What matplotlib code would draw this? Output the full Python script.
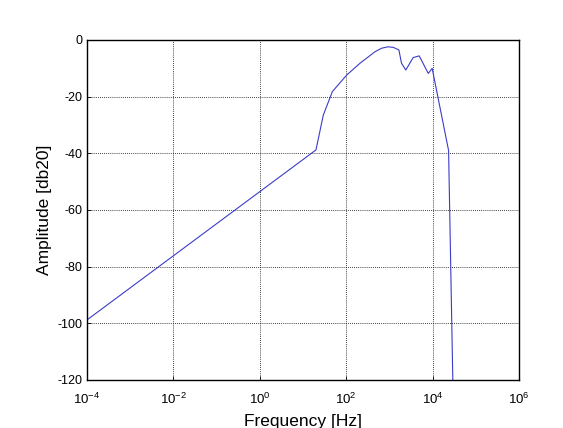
import matplotlib
matplotlib.use("Agg")
import matplotlib.pyplot as plt
import numpy as np

# values (log10 of frequency, amplitude in dB)
log_freq = [-4.0, 1.30, 1.47, 1.68, 2.01, 2.32, 2.67, 2.82, 2.97, 3.09, 3.22,
            3.28, 3.38, 3.55, 3.69, 3.90, 3.99, 4.37, 4.48]
amplitude = [-98.8, -38.8, -26.5, -18.2, -12.4, -8.2, -4.1, -2.9, -2.4, -2.6, -3.5,
             -8.2, -10.6, -6.2, -5.6, -11.8, -10.0, -39.0, -130.0]
x_ticks = [1e-4, 1e-2, 1e0, 1e2, 1e4, 1e6]
x_tick_labels = [r"$\mathregular{10^{-4}}$", r"$\mathregular{10^{-2}}$",
                 r"$\mathregular{10^{0}}$", r"$\mathregular{10^{2}}$",
                 r"$\mathregular{10^{4}}$", r"$\mathregular{10^{6}}$"]
y_ticks = [-120, -100, -80, -60, -40, -20, 0]

plt.rcParams["font.family"] = ["Liberation Sans", "DejaVu Sans"]
plt.rcParams["mathtext.fontset"] = "custom"
plt.rcParams["mathtext.rm"] = "Liberation Sans"
plt.rcParams["mathtext.it"] = "Liberation Sans"
plt.rcParams["axes.unicode_minus"] = False

fig = plt.figure(figsize=(5.63, 4.28), dpi=100)
ax = fig.add_axes([87 / 563, 1 - 380 / 428, 432 / 563, 340 / 428])

freq = np.power(10.0, log_freq)
ax.plot(freq, amplitude, color="#3c3cc8", linewidth=0.8)

ax.set_xscale("log")
ax.set_xlim(1e-4, 1e6)
ax.set_ylim(-120, 0)
ax.set_xticks(x_ticks)
ax.set_xticklabels(x_tick_labels)
ax.set_yticks(y_ticks)
ax.minorticks_off()
ax.tick_params(direction="in", length=3, width=0.6, labelsize=9)
ax.tick_params(axis="x", pad=8.5, labelsize=9.5)
ax.tick_params(axis="y", pad=3.5)
ax.grid(True, color="black", linestyle=(0, (1, 1.5)), linewidth=0.6)
for spine in ax.spines.values():
    spine.set_linewidth(1.0)

ax.set_xlabel("Frequency [Hz]", fontsize=12.5, labelpad=5)
ax.set_ylabel("Amplitude [db20]", fontsize=12.5, labelpad=4)

fig.savefig("out.png", dpi=100, facecolor="white")
